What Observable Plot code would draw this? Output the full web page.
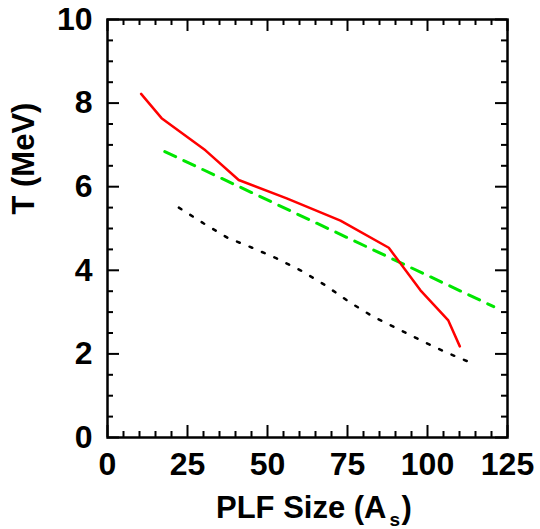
<!DOCTYPE html>
<html><head><meta charset="utf-8">
<script src="https://cdn.jsdelivr.net/npm/d3@7"></script>
<script src="https://cdn.jsdelivr.net/npm/@observablehq/plot@0.6"></script>
<style>body{margin:0;background:#fff}</style>
</head><body><div id="chart"></div>
<script>
// Red solid curve
const redX = [10.5, 16.9, 30.6, 41.0, 56.0, 72.8, 87.9, 97.8, 106.5, 110.1];
const redY = [8.22, 7.64, 6.87, 6.16, 5.72, 5.19, 4.54, 3.52, 2.80, 2.18];
// Green dashed line
const greenX = [17.9, 120.7];
const greenY = [6.84, 3.13];
// Black dotted curve
const blackX = [22.3, 30.1, 37.7, 45.2, 52.7, 60.3, 67.9, 75.4, 83.0, 90.5, 98.0, 105.7, 113.2];
const blackY = [5.50, 5.12, 4.77, 4.54, 4.29, 4.00, 3.65, 3.25, 2.89, 2.61, 2.32, 2.04, 1.80];
// Ticks
const xMajor = [0, 25, 50, 75, 100, 125];
const xMinor = [5,10,15,20,30,35,40,45,55,60,65,70,80,85,90,95,105,110,115,120];
const yMajor = [0, 2, 4, 6, 8, 10];
const yMinor = [0.5,1,1.5,2.5,3,3.5,4.5,5,5.5,6.5,7,7.5,8.5,9,9.5];
const xLabel = ["PLF Size (A", "s", ")"];
const yLabel = "T (MeV)";

const W = 540, H = 529;
const mL = 107, mR = 33, mT = 19, mB = 92;
const iw = W - mL - mR, ih = H - mT - mB;
const MAJ = 12, MIN = 6;

const toPts = (xs, ys) => xs.map((x, i) => ({x, y: ys[i]}));
const red = toPts(redX, redY), green = toPts(greenX, greenY), black = toPts(blackX, blackY);

const font = "'Liberation Sans', Arial, Helvetica, sans-serif";
const chart = Plot.plot({
  width: W, height: H,
  marginLeft: mL, marginRight: mR, marginTop: mT, marginBottom: mB,
  style: {fontFamily: font, fontSize: "32px", fontWeight: "bold", background: "#fff", color: "#000"},
  x: {domain: [0, 125], axis: null},
  y: {domain: [0, 10], axis: null},
  marks: [
    Plot.axisX(xMajor, {anchor: "bottom", tickSize: 0, tickPadding: 15, label: null, fontSize: 32}),
    Plot.axisY(yMajor, {anchor: "left", tickSize: 0, tickPadding: 15, label: null, fontSize: 32}),
    // inward ticks
    Plot.tickX(xMajor, {x: d => d, insetTop: ih - MAJ, strokeWidth: 2}),
    Plot.tickX(xMinor, {x: d => d, insetTop: ih - MIN, strokeWidth: 2}),
    Plot.tickX(xMajor, {x: d => d, insetBottom: ih - MAJ, strokeWidth: 2}),
    Plot.tickX(xMinor, {x: d => d, insetBottom: ih - MIN, strokeWidth: 2}),
    Plot.tickY(yMajor, {y: d => d, insetRight: iw - MAJ, strokeWidth: 2}),
    Plot.tickY(yMinor, {y: d => d, insetRight: iw - MIN, strokeWidth: 2}),
    Plot.tickY(yMajor, {y: d => d, insetLeft: iw - MAJ, strokeWidth: 2}),
    Plot.tickY(yMinor, {y: d => d, insetLeft: iw - MIN, strokeWidth: 2}),
    Plot.frame({stroke: "#000", strokeWidth: 2.5}),
    Plot.line(green, {x: "x", y: "y", stroke: "#00e600", strokeWidth: 3, strokeDasharray: "12,9"}),
    Plot.line(black, {x: "x", y: "y", stroke: "#000", strokeWidth: 2.5, strokeDasharray: "3,10.5"}),
    Plot.line(red, {x: "x", y: "y", stroke: "#ff0000", strokeWidth: 2.5}),
    Plot.text([yLabel], {text: d => d, frameAnchor: "left", rotate: -90, dx: -83, dy: -14, lineAnchor: "middle", fontSize: 31, fontWeight: "bold"}),
    Plot.text([xLabel[0]], {text: d => d, frameAnchor: "bottom", textAnchor: "end", dx: 79, dy: 80, lineAnchor: "bottom", fontSize: 31, fontWeight: "bold"}),
    Plot.text([xLabel[1]], {text: d => d, frameAnchor: "bottom", textAnchor: "start", dx: 82, dy: 88, lineAnchor: "bottom", fontSize: 19, fontWeight: "bold"}),
    Plot.text([xLabel[2]], {text: d => d, frameAnchor: "bottom", textAnchor: "start", dx: 94, dy: 80, lineAnchor: "bottom", fontSize: 31, fontWeight: "bold"})
  ]
});
document.getElementById("chart").appendChild(chart);
</script>
</body></html>
